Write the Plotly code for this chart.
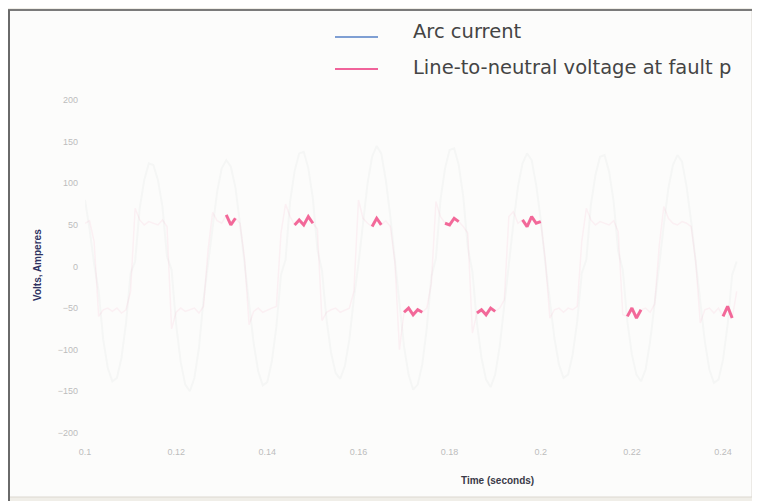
import plotly.graph_objects as go

# ---- data ----
time_s = [round(0.100 + 0.001 * i, 3) for i in range(144)]

arc_current = [
    80, 45, 3, -30, -88, -122, -138, -134, -110, -68,
    -8, 6, 70, 104, 124, 122, 104, 72, 12, -4,
    -70, -115, -142, -150, -134, -98, -40, 2, 46, 90,
    118, 128, 120, 95, 52, 5, -40, -92, -126, -143,
    -139, -114, -72, -10, 8, 78, 115, 136, 138, 118,
    82, 20, -5, -64, -104, -128, -135, -120, -88, -38,
    3, 55, 100, 132, 145, 136, 104, 60, 6, -44,
    -96, -130, -148, -142, -118, -74, -12, 10, 80, 118,
    140, 142, 122, 84, 22, -6, -68, -110, -136, -145,
    -130, -96, -44, 4, 52, 96, 124, 136, 128, 98,
    56, 4, -38, -86, -118, -134, -130, -106, -66, -8,
    8, 74, 110, 132, 134, 114, 78, 18, -4, -66,
    -106, -130, -138, -124, -90, -40, 2, 50, 94, 122,
    134, 126, 96, 54, 5, -40, -90, -124, -140, -136,
    -112, -70, -10, 6,
]

ln_voltage = [
    52, 55, 30, -60, -52, -50, -54, -50, -56, -52,
    -30, 70, 56, 50, 54, 52, 50, 56, 48, -75,
    -55, -50, -54, -52, -50, -56, -48, 20, 65, 55,
    52, 62, 50, 58, 52, 10, -70, -54, -50, -55,
    -52, -50, -48, 40, 75, 60, 50, 56, 50, 60,
    52, 45, -65, -55, -52, -50, -55, -52, -50, -30,
    80, 58, 52, 48, 58, 50, 55, 48, 5, -100,
    -55, -50, -58, -52, -55, -50, -20, 78, 60, 52,
    50, 58, 54, 48, 40, -80, -56, -52, -58, -50,
    -54, -50, -40, 60, 66, 52, 56, 48, 60, 52,
    54, 8, -62, -52, -50, -55, -50, -52, -48, 30,
    70, 56, 50, 54, 52, 50, 55, 42, -58, -60,
    -50, -62, -52, -50, -55, -45, 25, 72, 58, 52,
    50, 54, 52, 48, 6, -68, -52, -50, -56, -50,
    -60, -48, -62, -30,
]

# time windows where the voltage trace prints clearly in the reference
bright_windows = [
    (0.1305, 0.1335), (0.1455, 0.1505), (0.1625, 0.1655), (0.1695, 0.1745),
    (0.1785, 0.1825), (0.1855, 0.1905), (0.1955, 0.2005), (0.2185, 0.2225),
    (0.2395, 0.2425),
]

series_names = ["Arc current", "Line-to-neutral voltage at fault p"]

y_ticks = [200, 150, 100, 50, 0, -50, -100, -150, -200]
x_ticks = [0.1, 0.12, 0.14, 0.16, 0.18, 0.2, 0.22, 0.24]
x_tick_labels = ["0.1", "0.12", "0.14", "0.16", "0.18", "0.2", "0.22", "0.24"]

# ---- figure ----
BLUE = "#7f9fd3"
PINK = "#f0639a"

fig = go.Figure()

fig.add_trace(go.Scatter(x=time_s, y=arc_current, mode="lines", name=series_names[0],
                         line=dict(color="rgba(150,158,172,0.065)", width=2),
                         showlegend=False, hoverinfo="skip"))
fig.add_trace(go.Scatter(x=time_s, y=ln_voltage, mode="lines", name=series_names[1],
                         line=dict(color="rgba(240,99,154,0.08)", width=1.5),
                         showlegend=False, hoverinfo="skip"))

for (a, b) in bright_windows:
    xs = [t for t in time_s if a <= t <= b]
    ys = [v for t, v in zip(time_s, ln_voltage) if a <= t <= b]
    fig.add_trace(go.Scatter(x=xs, y=ys, mode="lines",
                             line=dict(color="rgba(240,70,130,0.8)", width=3),
                             showlegend=False, hoverinfo="skip"))

# page shows the figure offset by 8px (body margin); design in window pixels
OFF = 8
W, H = 752, 493
L, R, T, B = 77, 21, 88, 64
pw, ph = W - L - R, H - T - B

def px_x(px):
    return (px - OFF - L) / pw

def px_y(py):
    return (H - B - (py - OFF)) / ph

shapes = [
    dict(type="rect", xref="paper", yref="paper", layer="below",
         x0=px_x(8), x1=px_x(752), y0=px_y(497), y1=px_y(10),
         fillcolor="#fcfcfb", line=dict(color="#dcd8d0", width=1)),
    dict(type="line", xref="paper", yref="paper",
         x0=px_x(8), x1=px_x(752), y0=px_y(10), y1=px_y(10),
         line=dict(color="#7a7a7a", width=2)),
    dict(type="line", xref="paper", yref="paper",
         x0=px_x(9), x1=px_x(9), y0=px_y(10), y1=px_y(501),
         line=dict(color="#6a6a6a", width=2)),
    # legend keys
    dict(type="line", xref="paper", yref="paper",
         x0=px_x(335), x1=px_x(378), y0=px_y(37), y1=px_y(37),
         line=dict(color=BLUE, width=2)),
    dict(type="line", xref="paper", yref="paper",
         x0=px_x(335), x1=px_x(378), y0=px_y(69), y1=px_y(69),
         line=dict(color=PINK, width=2)),
]

legend_font = dict(family="DejaVu Sans, Arial", size=19.5, color="#444444")

annotations = [
    dict(text=series_names[0], xref="paper", yref="paper",
         x=px_x(411), y=px_y(32), showarrow=False, font=legend_font,
         xanchor="left", yanchor="middle"),
    dict(text=series_names[1], xref="paper", yref="paper",
         x=px_x(411), y=px_y(67), showarrow=False, font=legend_font,
         xanchor="left", yanchor="middle"),
    dict(text="<b>Volts, Amperes</b>", xref="paper", yref="paper",
         x=px_x(37), y=px_y(265), textangle=-90, showarrow=False,
         font=dict(family="Liberation Sans, Arial", size=10, color="#2e3160"),
         xanchor="center", yanchor="middle"),
    dict(text="<b>Time (seconds)</b>", xref="paper", yref="paper",
         x=px_x(497), y=px_y(481), showarrow=False,
         font=dict(family="Liberation Sans, Arial", size=10, color="#3a3a48"),
         xanchor="center", yanchor="middle"),
]

fig.update_layout(
    width=W, height=H,
    margin=dict(l=L, r=R, t=T, b=B, pad=0),
    paper_bgcolor="#f0eee8",
    plot_bgcolor="rgba(0,0,0,0)",
    shapes=shapes,
    annotations=annotations,
    showlegend=False,
    xaxis=dict(range=[0.1, 0.2435], showgrid=False, zeroline=False,
               showline=False, ticks="", tickvals=x_ticks,
               ticktext=x_tick_labels, ticklabelstandoff=8,
               tickfont=dict(family="Liberation Sans, Arial", size=9, color="#bdbdbd")),
    yaxis=dict(range=[-205, 205], showgrid=False, zeroline=False,
               showline=False, ticks="", tickvals=y_ticks,
               ticklabelstandoff=6,
               tickfont=dict(family="Liberation Sans, Arial", size=9, color="#bdbdbd")),
)

fig.write_html("out.html")
